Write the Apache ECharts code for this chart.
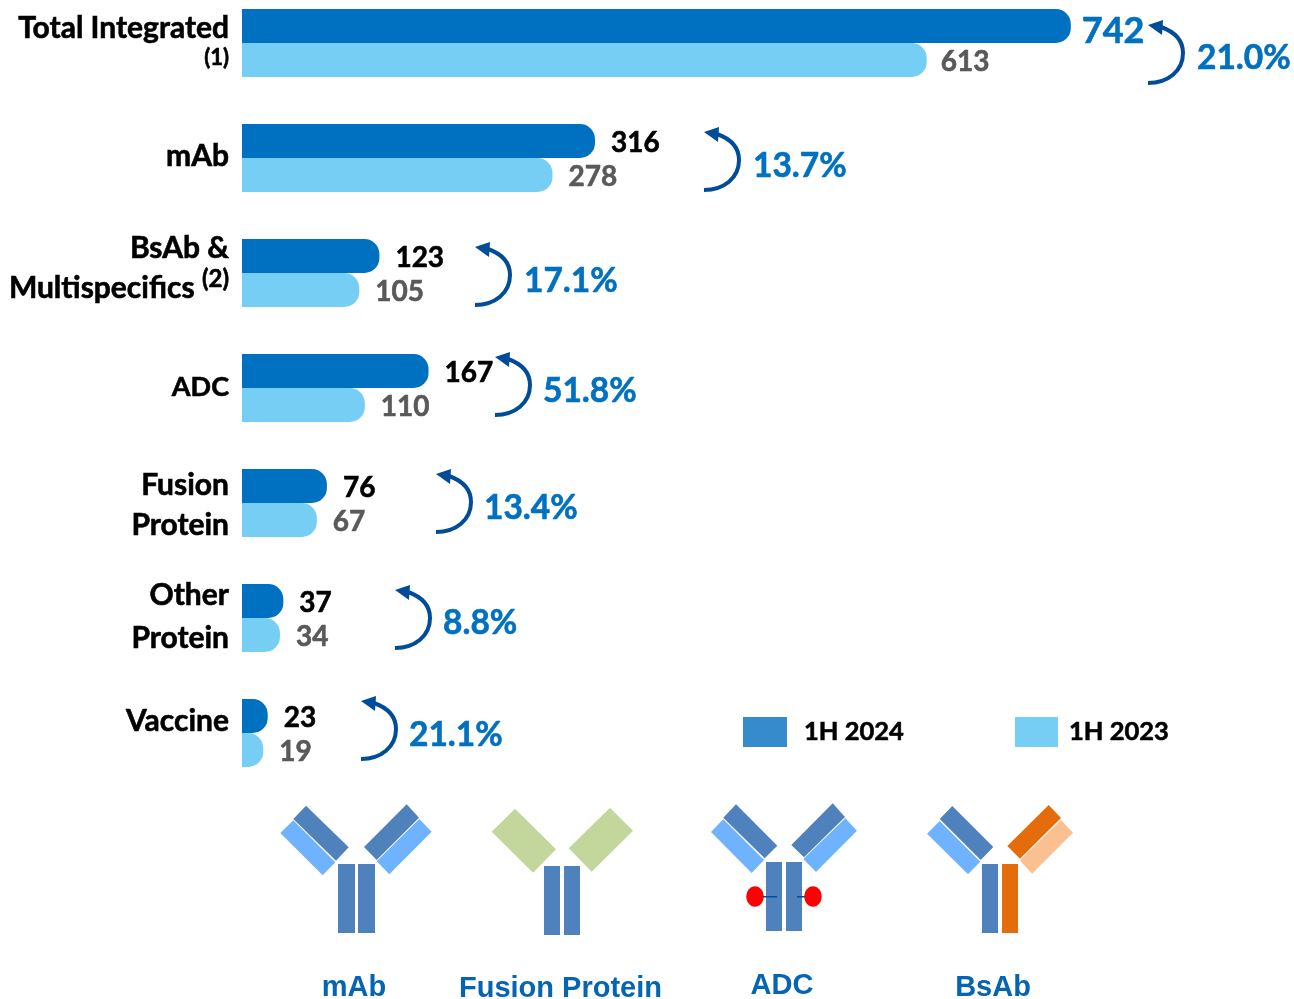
<!DOCTYPE html>
<html lang="en">
<head>
  <meta charset="UTF-8">
  <title>Approved pipeline by modality</title>
  <script src="https://cdn.jsdelivr.net/npm/echarts@6/dist/echarts.min.js"></script>
  <style>
    html, body { margin: 0; padding: 0; background: #fff; }
  </style>
</head>
<body>
  <div id="main" style="width: 1294px;height:999px;"></div>

  <script type="text/javascript">
    const categories = ['Total Integrated', 'mAb', 'BsAb & Multispecifics', 'ADC', 'Fusion Protein', 'Other Protein', 'Vaccine'];
    const values2024 = [742, 316, 123, 167, 76, 37, 23];
    const values2023 = [613, 278, 105, 110, 67, 34, 19];
    const growthLabels = ['21.0%', '13.7%', '17.1%', '51.8%', '13.4%', '8.8%', '21.1%'];
    const iconCaptions = ['mAb', 'Fusion Protein', 'ADC', 'BsAb'];

    // colours
    const DARK = '#0070c0', LIGHT = '#77cef5', GREY = '#595959', ARROW = '#004c99';
    const AB_BLUE = '#4f81bd', AB_SKY = '#6fb3ff', AB_GREEN = '#c3d69b', AB_ORANGE = '#e46c0a', AB_PEACH = '#fac090';
    const FONT = 'Lato';
    const HEAVY = 0.6; // Lato bold is a bit thin next to the original font

    // how each axis label is broken up and nudged, the source slide is not regular
    const labelText = {
      'Total Integrated': '{a|Total Integrated}\n{note|(1)}',
      'mAb': '{b|mAb}',
      'BsAb & Multispecifics': '{b|BsAb &}\n{b|Multispecifics }{sup|(2)}',
      'ADC': '{d|ADC}',
      'Fusion Protein': '{b|Fusion}\n{b|Protein}',
      'Other Protein': '{c|Other}\n{c|Protein}',
      'Vaccine': '{b|Vaccine}'
    };
    const labelPadding = {
      'Total Integrated': [0, 0, 6, 0],
      'mAb': [0, 0, 4, 0],
      'BsAb & Multispecifics': [0, 0, 9, 0],
      'ADC': [0, 0, 2, 0],
      'Fusion Protein': [4, 0, 0, 0],
      'Other Protein': [0, 0, 3, 0],
      'Vaccine': [0, 0, 24, 0]
    };

    // growth arrows and percentages: tail of the arrow, then left edge and centre of the text
    const arrowTails = [[1148, 83], [704, 190], [475, 305], [495, 415], [436, 532], [395, 648], [361, 759]];
    const growthPos = [[1197, 58], [753, 166], [524, 281], [543, 391], [484, 508], [443, 623], [409, 735]];

    function richStyle(size, lineHeight) {
      return { fontFamily: FONT, fontWeight: 'bold', fontSize: size, lineHeight: lineHeight, align: 'right', color: '#000', textBorderColor: '#000', textBorderWidth: HEAVY };
    }

    function barLabel(color) {
      return { show: true, position: 'right', distance: 16, offset: [0, 2], color: color, fontFamily: FONT, fontWeight: 'bold', fontSize: 28, textBorderColor: color, textBorderWidth: HEAVY };
    }

    function legendText(left) {
      return { color: '#000', fontFamily: FONT, fontWeight: 'bold', fontSize: 25.5, padding: [0, 0, 0, left], textBorderColor: '#000', textBorderWidth: HEAVY };
    }

    function arrow(tail) {
      const stroke = { fill: 'none', stroke: ARROW, lineWidth: 4 };
      return {
        type: 'group', x: tail[0], y: tail[1], silent: true,
        children: [
          { type: 'bezierCurve', shape: { x1: 0, y1: 0, cpx1: 20, cpy1: 0, cpx2: 35, cpy2: -12, x2: 35, y2: -30 }, style: stroke },
          { type: 'bezierCurve', shape: { x1: 35, y1: -30, cpx1: 35, cpy1: -42, cpx2: 27, cpy2: -51, x2: 13, y2: -56 }, style: stroke },
          { type: 'polygon', shape: { points: [[0, -58], [15, -63], [14, -48]] }, style: { fill: ARROW } }
        ]
      };
    }

    function poly(points, fill) {
      return { type: 'polygon', silent: true, shape: { points: points }, style: { fill: fill } };
    }
    function box(x, y, width, height, fill) {
      return { type: 'rect', silent: true, shape: { x: x, y: y, width: width, height: height }, style: { fill: fill } };
    }

    const icons = [
      // mAb
      poly([[306, 805.7], [348.7, 847.3], [336, 860.7], [293.3, 819]], AB_BLUE),
      poly([[293.3, 820.3], [335.3, 862.3], [322.7, 875.3], [280.3, 833]], AB_SKY),
      poly([[406.7, 804.3], [419, 817.7], [376.7, 860], [364, 847]], AB_BLUE),
      poly([[419.3, 819], [431.7, 831.7], [389.3, 874.3], [376.7, 861.3]], AB_SKY),
      box(338, 864, 17, 69, AB_BLUE),
      box(358, 864, 17, 69, AB_BLUE),
      // Fusion Protein
      poly([[515, 808.7], [556, 849.3], [533, 872.7], [491.7, 831.7]], AB_GREEN),
      poly([[610, 807.7], [633, 830.7], [591.7, 871.7], [568.7, 848.3]], AB_GREEN),
      box(544, 866, 16, 69, AB_BLUE),
      box(564, 866, 16, 69, AB_BLUE),
      // ADC
      poly([[736, 804.3], [777.3, 845.7], [764.7, 858.3], [723.3, 817.7]], AB_BLUE),
      poly([[723.3, 819.3], [764, 860], [751.7, 873], [711, 832]], AB_SKY),
      poly([[832.7, 803.3], [845, 817], [804, 857.3], [791.3, 845]], AB_BLUE),
      poly([[845.3, 818.3], [857, 830.7], [816, 872], [803.3, 859]], AB_SKY),
      box(766, 862, 16, 69, AB_BLUE),
      box(786, 862, 16, 69, AB_BLUE),
      { type: 'ellipse', silent: true, shape: { cx: 755, cy: 896.5, rx: 8.7, ry: 10.3 }, style: { fill: '#ff0000' } },
      { type: 'ellipse', silent: true, shape: { cx: 813, cy: 896.5, rx: 8.7, ry: 10.3 }, style: { fill: '#ff0000' } },
      box(763, 896, 14, 1.5, ARROW),
      box(797, 896, 8, 1.5, ARROW),
      // BsAb
      poly([[952.3, 806], [993.3, 847], [980.7, 860], [939.7, 819]], AB_BLUE),
      poly([[939.7, 821], [980.3, 861.7], [968, 874.3], [927, 833.7]], AB_SKY),
      poly([[1048.7, 805], [1061, 818], [1020, 858.7], [1007.3, 846]], AB_ORANGE),
      poly([[1061, 820], [1073, 832.7], [1032, 873.7], [1019.7, 860.3]], AB_PEACH),
      box(982, 864, 16, 69, AB_BLUE),
      box(1002, 864, 16, 69, AB_ORANGE)
    ];

    const captionPos = [[354, 988], [560.5, 989], [782, 986], [993, 988]];
    const captions = iconCaptions.map((name, i) => ({
      type: 'text', silent: true, x: captionPos[i][0], y: captionPos[i][1],
      style: { text: name, fill: '#0565b3', font: 'bold 29px "Liberation Sans"', align: 'center', verticalAlign: 'middle' }
    }));

    const growthText = growthLabels.map((text, i) => ({
      type: 'text', silent: true, x: growthPos[i][0], y: growthPos[i][1],
      style: { text: text, fill: DARK, stroke: DARK, lineWidth: HEAVY, font: 'bold 33.5px ' + FONT, align: 'left', verticalAlign: 'middle' }
    }));

    let myChart = echarts.init(document.getElementById('main'));

    let options = {
      animation: false,
      legend: [
        { data: [{ name: '1H 2024', itemStyle: { color: '#368bcc' } }], left: 738, top: 712, icon: 'rect', itemWidth: 44, itemHeight: 30, selectedMode: false,
          textStyle: legendText(12) },
        { data: [{ name: '1H 2023', itemStyle: { color: LIGHT } }], left: 1010, top: 712, icon: 'rect', itemWidth: 43, itemHeight: 30, selectedMode: false,
          textStyle: legendText(6) }
      ],
      // boundaryGap off puts the first and last rows on the grid edges
      grid: { left: 242, top: 43, width: 1050, height: 690, containLabel: false },
      xAxis: { type: 'value', min: 0, max: 940, show: false },
      yAxis: {
        type: 'category',
        inverse: true,
        boundaryGap: false,
        data: categories.map((name) => ({ value: name, textStyle: { padding: labelPadding[name] } })),
        axisLine: { show: false },
        axisTick: { show: false },
        splitLine: { show: false },
        axisLabel: {
          margin: 13,
          interval: 0,
          color: '#000',
          fontFamily: FONT,
          fontWeight: 'bold',
          formatter: (name) => labelText[name],
          rich: {
            a: richStyle(30, 36),
            note: richStyle(22, 24),
            b: richStyle(30, 40),
            c: richStyle(30, 43),
            d: richStyle(27, 40),
            sup: Object.assign(richStyle(24, 24), { padding: [0, 0, 18, 0] })
          }
        }
      },
      series: [
        {
          name: '1H 2024', type: 'bar', barWidth: 34, barGap: 0, clip: false,
          itemStyle: { color: DARK, borderRadius: [0, 15, 15, 0] },
          label: barLabel('#000'),
          data: values2024.map((v, i) => i === 0
            ? { value: v, label: { color: DARK, textBorderColor: DARK, fontSize: 36, distance: 11, offset: [0, 5] } }
            : v)
        },
        {
          name: '1H 2023', type: 'bar', barWidth: 34, clip: false,
          itemStyle: { color: LIGHT, borderRadius: [0, 15, 15, 0] },
          label: barLabel(GREY),
          data: values2023.map((v, i) => i === 0 ? { value: v, label: { distance: 14 } } : v)
        }
      ],
      graphic: { elements: arrowTails.map(arrow).concat(growthText, icons, captions) }
    };

    myChart.setOption(options);
  </script>
</body>
</html>
